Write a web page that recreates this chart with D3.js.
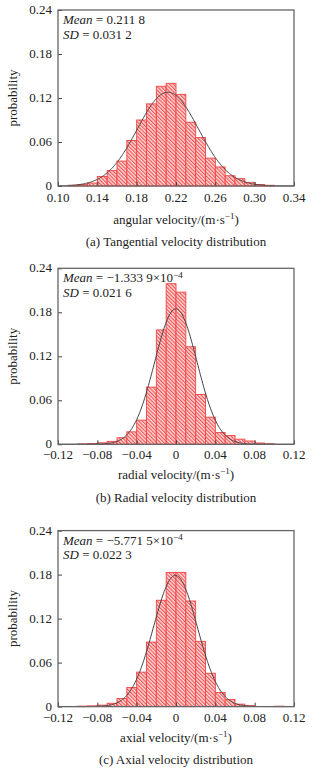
<!DOCTYPE html>
<html>
<head>
<meta charset="utf-8">
<script src="https://cdn.jsdelivr.net/npm/d3@7"></script>
<style>
  body { margin: 0; background: #fff; }
  svg text { font-family: "Liberation Serif", "DejaVu Serif", serif; fill: #222; }
</style>
</head>
<body>
<div id="visHolder"></div>
<script>
// bin left edges (width 0.01) and probabilities
const binWidth = 0.01;

const tangentialBins = [0.11, 0.12, 0.13, 0.14, 0.15, 0.16, 0.17, 0.18, 0.19, 0.20, 0.21,
    0.22, 0.23, 0.24, 0.25, 0.26, 0.27, 0.28, 0.29, 0.30, 0.31];
const tangentialProb = [0.001, 0.002, 0.004, 0.013, 0.021, 0.034, 0.062, 0.090, 0.112, 0.136, 0.140,
    0.125, 0.087, 0.066, 0.038, 0.026, 0.014, 0.010, 0.005, 0.002, 0.001];

const radialBins = [-0.10, -0.09, -0.08, -0.07, -0.06, -0.05, -0.04, -0.03, -0.02, -0.01,
    0.00, 0.01, 0.02, 0.03, 0.04, 0.05, 0.06, 0.07, 0.08, 0.09];
const radialProb = [0.0005, 0.001, 0.002, 0.004, 0.009, 0.017, 0.033, 0.078, 0.156, 0.219,
    0.2075, 0.133, 0.068, 0.037, 0.016, 0.012, 0.007, 0.0045, 0.0018, 0.0007];

const axialBins = [-0.10, -0.09, -0.08, -0.07, -0.06, -0.05, -0.04, -0.03, -0.02, -0.01,
    0.00, 0.01, 0.02, 0.03, 0.04, 0.05, 0.06, 0.07, 0.08, 0.09, 0.10];
const axialProb = [0.0006, 0.001, 0.002, 0.0045, 0.011, 0.026, 0.047, 0.088, 0.145, 0.183,
    0.183, 0.144, 0.089, 0.0455, 0.0193, 0.0096, 0.0034, 0.0013, 0, 0, 0.0005];

// fitted normal parameters
const tangentialMean = 0.2118, tangentialSD = 0.0312;
const radialMean = -1.3339e-4, radialSD = 0.0216;
const axialMean = -5.7715e-4, axialSD = 0.0223;

const tangentialTicks = [0.10, 0.14, 0.18, 0.22, 0.26, 0.30, 0.34];
const signedTicks = [-0.12, -0.08, -0.04, 0, 0.04, 0.08, 0.12];
const yTicks = [0, 0.06, 0.12, 0.18, 0.24];

let width = 321;
let height = 774;
let fs = 13;

let svg = d3.select("#visHolder")
    .append("svg")
    .attr("width", width)
    .attr("height", height);

let defs = svg.append("defs");
let pat = defs.append("pattern")
    .attr("id", "hatch")
    .attr("patternUnits", "userSpaceOnUse")
    .attr("width", 2.6)
    .attr("height", 2.6)
    .attr("patternTransform", "rotate(-45)");
pat.append("rect").attr("width", 2.6).attr("height", 2.6).attr("fill", "#ffdcdc");
pat.append("line")
    .attr("x1", 0.6).attr("y1", 0).attr("x2", 0.6).attr("y2", 2.6)
    .attr("stroke", "#f44848").attr("stroke-width", 1.1);

const fmtTick = t => {
    if (t === 0) return "0";
    let s = Math.abs(t).toFixed(2);
    return (t < 0 ? "\u2212" : "") + s;
};

function drawPanel(p) {
    let x = d3.scaleLinear().domain(p.xDomain).range([58, 294]);
    let y = d3.scaleLinear().domain([0, 0.24]).range([p.bottom, p.bottom - 176]);
    let g = svg.append("g");

    // bars
    g.selectAll("rect.bar")
        .data(p.bins.map((b, i) => ({ x0: b, v: p.prob[i] })).filter(d => d.v > 0))
        .enter()
        .append("rect")
        .attr("class", "bar")
        .attr("x", d => x(d.x0))
        .attr("width", d => x(d.x0 + binWidth) - x(d.x0))
        .attr("y", d => y(d.v))
        .attr("height", d => y(0) - y(d.v))
        .attr("fill", "url(#hatch)")
        .attr("stroke", "#f54444")
        .attr("stroke-width", 0.9);

    // fitted normal curve from the stated mean and SD
    let xs = d3.range(p.xDomain[0], p.xDomain[1] + 1e-9, (p.xDomain[1] - p.xDomain[0]) / 300);
    let pdf = v => binWidth / (p.sd * Math.sqrt(2 * Math.PI)) * Math.exp(-0.5 * ((v - p.mean) / p.sd) ** 2);
    g.append("path")
        .datum(xs)
        .attr("fill", "none")
        .attr("stroke", "#444")
        .attr("stroke-width", 1)
        .attr("d", d3.line().x(d => x(d)).y(d => y(pdf(d))));

    // axes with inward ticks
    let xAxis = d3.axisTop(x).tickValues(p.xTicks).tickSize(4).tickFormat("");
    g.append("g").attr("transform", `translate(0,${p.bottom})`).call(xAxis)
        .call(a => a.select(".domain").remove())
        .selectAll("line").attr("stroke", "#444");
    let yAxis = d3.axisRight(y).tickValues(yTicks).tickSize(4).tickFormat("");
    g.append("g").attr("transform", "translate(58,0)").call(yAxis)
        .call(a => a.select(".domain").remove())
        .selectAll("line").attr("stroke", "#444");

    // frame
    g.append("rect")
        .attr("x", 58).attr("y", p.bottom - 176)
        .attr("width", 236).attr("height", 176)
        .attr("fill", "none").attr("stroke", "#666").attr("stroke-width", 1.3);

    // tick labels
    g.selectAll("text.xt").data(p.xTicks).enter().append("text")
        .attr("x", d => x(d)).attr("y", p.bottom + p.tickDy)
        .attr("text-anchor", "middle").attr("font-size", fs)
        .text(fmtTick);
    g.selectAll("text.yt").data(yTicks).enter().append("text")
        .attr("x", 52).attr("y", d => y(d) + 4)
        .attr("text-anchor", "end").attr("font-size", fs)
        .text(fmtTick);

    // y label
    g.append("text")
        .attr("transform", `translate(17,${p.bottom - 88}) rotate(-90)`)
        .attr("text-anchor", "middle").attr("font-size", fs)
        .text("probability");

    // x label
    let xl = g.append("text")
        .attr("x", 176).attr("y", p.bottom + p.labelDy)
        .attr("text-anchor", "middle").attr("font-size", fs);
    xl.append("tspan").text(p.xLabel + "/(m\u00b7s");
    xl.append("tspan").attr("dy", -4.5).attr("font-size", 9).text("\u22121");
    xl.append("tspan").attr("dy", 4.5).text(")");

    // caption
    g.append("text")
        .attr("x", 176).attr("y", p.bottom + p.captionDy)
        .attr("text-anchor", "middle").attr("font-size", fs)
        .text(p.caption);

    // stats
    let top = p.bottom - 176;
    let m = g.append("text").attr("x", 63).attr("y", top + 14).attr("font-size", fs);
    m.append("tspan").attr("font-style", "italic").text("Mean");
    m.append("tspan").text(" = " + p.meanText);
    if (p.meanExp) {
        m.append("tspan").text("\u00d710");
        m.append("tspan").attr("dy", -4.5).attr("font-size", 9).text(p.meanExp);
    }
    let s = g.append("text").attr("x", 63).attr("y", top + 28.5).attr("font-size", fs);
    s.append("tspan").attr("font-style", "italic").text("SD");
    s.append("tspan").text(" = " + p.sdText);
}

drawPanel({
    bins: tangentialBins, prob: tangentialProb, mean: tangentialMean, sd: tangentialSD,
    xDomain: [0.10, 0.34], xTicks: tangentialTicks, bottom: 186,
    tickDy: 16, labelDy: 37.5, captionDy: 60,
    xLabel: "angular velocity", caption: "(a) Tangential velocity distribution",
    meanText: "0.211 8", sdText: "0.031 2"
});
drawPanel({
    bins: radialBins, prob: radialProb, mean: radialMean, sd: radialSD,
    xDomain: [-0.12, 0.12], xTicks: signedTicks, bottom: 444.3,
    tickDy: 14.5, labelDy: 34.5, captionDy: 57.5,
    xLabel: "radial velocity", caption: "(b) Radial velocity distribution",
    meanText: "\u22121.333 9", meanExp: "\u22124", sdText: "0.021 6"
});
drawPanel({
    bins: axialBins, prob: axialProb, mean: axialMean, sd: axialSD,
    xDomain: [-0.12, 0.12], xTicks: signedTicks, bottom: 706.6,
    tickDy: 15.5, labelDy: 35, captionDy: 57,
    xLabel: "axial velocity", caption: "(c) Axial velocity distribution",
    meanText: "\u22125.771 5", meanExp: "\u22124", sdText: "0.022 3"
});
</script>
</body>
</html>
